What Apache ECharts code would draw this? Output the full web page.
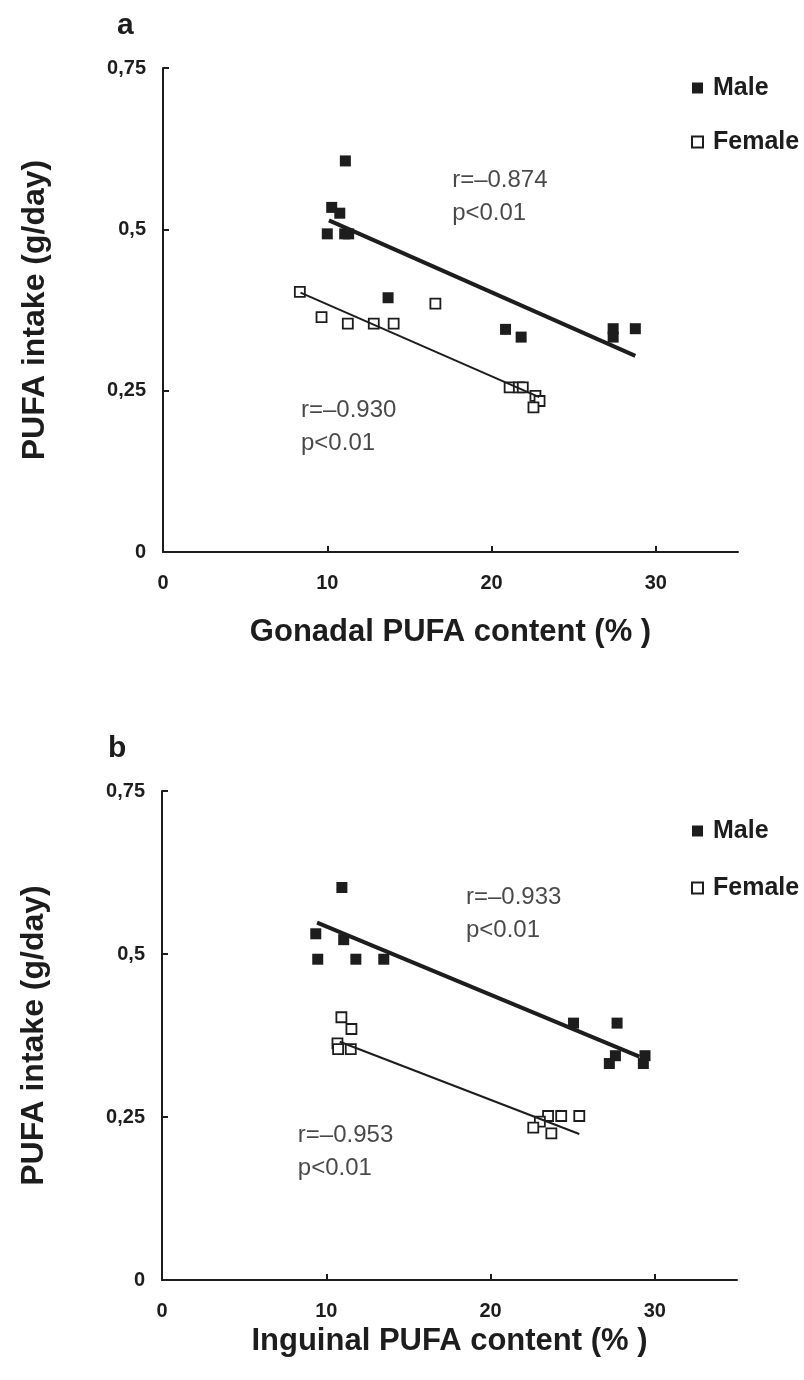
<!DOCTYPE html>
<html>
<head>
<meta charset="utf-8">
<script src="https://cdn.jsdelivr.net/npm/echarts@6/dist/echarts.min.js"></script>
<style>
html,body{margin:0;padding:0;background:#fff;}
#chart{width:804px;height:1380px;}
</style>
</head>
<body>
<div id="chart"></div>
<script>
// ---- Data ----
// Panel a: Gonadal PUFA content (%) vs PUFA intake (g/day)
var aMaleX   = [11.1, 10.27, 10.76, 10.0, 11.06, 11.3, 13.7, 20.85, 21.8, 27.4, 27.4, 28.75];
var aMaleY   = [0.606, 0.534, 0.525, 0.493, 0.493, 0.493, 0.394, 0.345, 0.333, 0.346, 0.333, 0.346];
var aFemaleX = [8.33, 9.65, 11.25, 12.83, 14.04, 16.58, 21.1, 21.66, 21.9, 22.67, 22.92, 22.55];
var aFemaleY = [0.403, 0.364, 0.354, 0.354, 0.354, 0.385, 0.255, 0.255, 0.255, 0.242, 0.234, 0.224];
var aMaleFitX   = [10.1, 28.75];
var aMaleFitY   = [0.514, 0.304];
var aFemaleFitX = [8.37, 22.9];
var aFemaleFitY = [0.402, 0.240];

// Panel b: Inguinal PUFA content (%) vs PUFA intake (g/day)
var bMaleX   = [10.95, 9.36, 11.06, 9.48, 11.8, 13.5, 25.05, 27.7, 27.6, 27.23, 29.4, 29.3];
var bMaleY   = [0.602, 0.531, 0.522, 0.492, 0.492, 0.492, 0.394, 0.394, 0.344, 0.332, 0.344, 0.332];
var bFemaleX = [10.92, 11.53, 10.68, 10.72, 11.49, 23.5, 24.3, 25.4, 23.0, 22.6, 23.7];
var bFemaleY = [0.403, 0.385, 0.363, 0.354, 0.354, 0.2515, 0.2515, 0.2515, 0.243, 0.2336, 0.225];
var bMaleFitX   = [9.44, 29.06];
var bMaleFitY   = [0.548, 0.3425];
var bFemaleFitX = [10.82, 25.4];
var bFemaleFitY = [0.3655, 0.224];

// Annotations: [x, y, text]
var aNotes = [[17.6, 0.550, 'r=\u20130.874\np<0.01'], [8.4, 0.194, 'r=\u20130.930\np<0.01']];
var bNotes = [[18.5, 0.561, 'r=\u20130.933\np<0.01'], [8.27, 0.197, 'r=\u20130.953\np<0.01']];

var xTicks = [0, 10, 20, 30];
var yTicks = [0, 0.25, 0.5, 0.75];
var panelLetters = ['a', 'b'];
var xTitles = ['Gonadal PUFA content (% )', 'Inguinal PUFA content (% )'];
var yTitle = 'PUFA intake (g/day)';

// ---- Build ----
function zip(xs, ys) { return xs.map(function (x, i) { return [x, ys[i]]; }); }
var INK = '#1d1d1d';
var FONT = 'Liberation Sans, Arial, sans-serif';

function xAxisFor(gi, title, gap) {
  return {
    gridIndex: gi, type: 'value', min: 0, max: 35, interval: 10,
    splitLine: { show: false },
    axisLine: { show: true, lineStyle: { color: INK, width: 2 } },
    axisTick: { show: true, inside: true, length: 6, lineStyle: { color: INK, width: 2 }, customValues: [10, 20, 30] },
    axisLabel: { customValues: xTicks, margin: 21, color: INK, fontSize: 20, fontWeight: 'bold', fontFamily: FONT },
    name: title, nameLocation: 'middle', nameGap: gap,
    nameTextStyle: { color: INK, fontSize: 31, fontWeight: 'bold', fontFamily: FONT }
  };
}
function yAxisFor(gi) {
  return {
    gridIndex: gi, type: 'value', min: 0, max: 0.75, interval: 0.25,
    splitLine: { show: false },
    axisLine: { show: true, lineStyle: { color: INK, width: 2 } },
    axisTick: { show: true, inside: true, length: 6, lineStyle: { color: INK, width: 2 } },
    axisLabel: {
      margin: 17, color: INK, fontSize: 20, fontWeight: 'bold', fontFamily: FONT,
      formatter: function (v) { return String(v).replace('.', ','); }
    },
    name: yTitle, nameLocation: 'middle', nameRotate: 90, nameGap: 112,
    nameTextStyle: { color: INK, fontSize: 32, fontWeight: 'bold', fontFamily: FONT }
  };
}
function maleSeries(gi, data) {
  return { name: 'Male', type: 'scatter', xAxisIndex: gi, yAxisIndex: gi, symbol: 'rect', symbolSize: 11,
    itemStyle: { color: INK, opacity: 1 }, data: data, z: 3 };
}
function femaleSeries(gi, data) {
  return { name: 'Female', type: 'scatter', xAxisIndex: gi, yAxisIndex: gi, symbol: 'rect', symbolSize: 10,
    itemStyle: { color: '#fff', borderColor: INK, borderWidth: 1.8, opacity: 1 }, data: data, z: 3 };
}
function fitSeries(gi, data, w) {
  return { type: 'line', xAxisIndex: gi, yAxisIndex: gi, data: data, symbol: 'none', silent: true,
    lineStyle: { color: INK, width: w }, z: 4 };
}
function noteSeries(gi, notes) {
  return { type: 'scatter', xAxisIndex: gi, yAxisIndex: gi, symbolSize: 0, silent: true, z: 5,
    data: notes.map(function (n) { return { value: [n[0], n[1]], label: { formatter: n[2] } }; }),
    label: { show: true, position: 'right', distance: 0, color: '#1a1a1a', fontSize: 24, lineHeight: 33, fontFamily: FONT } };
}
function legendFor(top, gap) {
  return {
    data: ['Male', 'Female'], orient: 'vertical', left: 686, top: top, itemGap: gap,
    itemWidth: 11, itemHeight: 11, selectedMode: false,
    textStyle: { color: INK, fontSize: 25, fontWeight: 'bold', fontFamily: FONT, padding: [0, 0, 0, 5], lineHeight: 30 }
  };
}

var option = {
  animation: false,
  backgroundColor: '#fff',
  title: [
    { text: panelLetters[0], left: 112, top: 6, textStyle: { color: INK, fontSize: 30, fontWeight: 'bold', fontFamily: FONT } },
    { text: panelLetters[1], left: 103, top: 729, textStyle: { color: INK, fontSize: 30, fontWeight: 'bold', fontFamily: FONT } }
  ],
  legend: [legendFor(68, 24), legendFor(811, 27)],
  grid: [
    { left: 163, top: 68, width: 575, height: 484 },
    { left: 162, top: 791, width: 575, height: 489 }
  ],
  xAxis: [xAxisFor(0, xTitles[0], 65), xAxisFor(1, xTitles[1], 46)],
  yAxis: [yAxisFor(0), yAxisFor(1)],
  series: [
    maleSeries(0, zip(aMaleX, aMaleY)),
    femaleSeries(0, zip(aFemaleX, aFemaleY)),
    fitSeries(0, zip(aMaleFitX, aMaleFitY), 4),
    fitSeries(0, zip(aFemaleFitX, aFemaleFitY), 2),
    noteSeries(0, aNotes),
    maleSeries(1, zip(bMaleX, bMaleY)),
    femaleSeries(1, zip(bFemaleX, bFemaleY)),
    fitSeries(1, zip(bMaleFitX, bMaleFitY), 4),
    fitSeries(1, zip(bFemaleFitX, bFemaleFitY), 2),
    noteSeries(1, bNotes)
  ]
};
var chart = echarts.init(document.getElementById('chart'), null, { renderer: 'canvas' });
chart.setOption(option);
</script>
</body>
</html>
